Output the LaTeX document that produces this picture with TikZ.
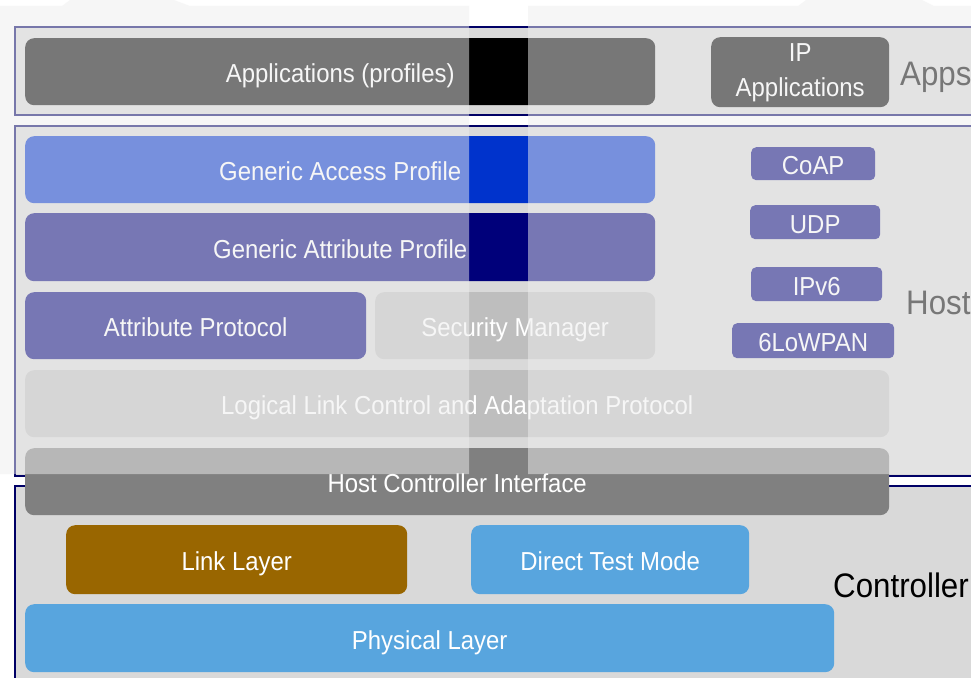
\documentclass[tikz,border=0pt]{standalone}
\usepackage{fontspec}
\setmainfont{Liberation Sans}[FakeStretch=0.92]
\definecolor{framenavy}{HTML}{000066}
\definecolor{framefill}{HTML}{D9D9D9}
\definecolor{gapblue}{HTML}{0033CC}
\definecolor{attnavy}{HTML}{00007A}
\definecolor{lightgrey}{HTML}{BEBEBE}
\definecolor{hcigrey}{HTML}{808080}
\definecolor{linkbrown}{HTML}{996600}
\definecolor{skyblue}{HTML}{58A5DE}
\definecolor{veil}{HTML}{EEEEEE}
\tikzset{
  layerbox/.style={draw=none, rounded corners=9pt, text=white, inner sep=0pt,
    anchor=north west, font=\fontsize{26}{35}\selectfont, text height=22pt, text depth=0pt},
  smallbox/.style={layerbox, rounded corners=5pt},
  stackframe/.style={draw=framenavy, line width=2.5pt, fill=framefill},
  sidelabel/.style={anchor=west, inner sep=0pt, text=black, font=\fontsize{34}{38}\selectfont,
    text height=25pt, text depth=0pt},
  veilfill/.style={fill=veil, fill opacity=0.5, draw=none}
}
\begin{document}
\begin{tikzpicture}[x=1pt,y=-1pt]
\useasboundingbox (0,0) rectangle (971,677);
\clip (0,0) rectangle (971,677);
\fill[white] (0,0) rectangle (971,677);

% frames
\draw[stackframe] (15,27) rectangle (1000,115);
\draw[stackframe] (15,126) rectangle (1000,476);
\draw[stackframe] (15,486) rectangle (1000,700);

% Apps layer
\node[layerbox, fill=black, minimum width=630pt, minimum height=67pt] (apps) at (25,38) {Applications (profiles)};
\node[layerbox, fill=black, minimum width=178pt, minimum height=66pt, text height=, text depth=]
  (ipapps) at (711,37) {\raisebox{-4pt}{\begin{tabular}{@{}c@{}}IP\\Applications\end{tabular}}};
\node[sidelabel] (appslabel) at (900,73) {Apps};

% Host layer
\node[layerbox, fill=gapblue, minimum width=630pt, minimum height=67pt] (gap) at (25,136) {Generic Access Profile};
\node[layerbox, fill=attnavy, minimum width=630pt, minimum height=68pt] (gatt) at (25,213) {Generic Attribute Profile};
\node[layerbox, fill=attnavy, minimum width=341pt, minimum height=67pt] (att) at (25,292) {Attribute Protocol};
\node[layerbox, fill=lightgrey, minimum width=280pt, minimum height=67pt] (sm) at (375,292) {Security Manager};
\node[layerbox, fill=lightgrey, minimum width=864pt, minimum height=67pt] (l2cap) at (25,370) {Logical Link Control and Adaptation Protocol};
\node[smallbox, fill=attnavy, minimum width=124pt, minimum height=33pt] (coap) at (751,147) {CoAP};
\node[smallbox, fill=attnavy, minimum width=130pt, minimum height=34pt] (udp) at (750,205) {UDP};
\node[smallbox, fill=attnavy, minimum width=131pt, minimum height=34pt] (ipv6) at (751,267) {IPv6};
\node[smallbox, fill=attnavy, minimum width=162pt, minimum height=35pt] (lowpan) at (732,323) {6LoWPAN};
\node[sidelabel] (hostlabel) at (906,302) {Host};

% HCI
\node[layerbox, fill=hcigrey, minimum width=864pt, minimum height=67pt] (hci) at (25,448) {Host Controller Interface};

% Controller layer
\node[layerbox, fill=linkbrown, minimum width=341pt, minimum height=69pt] (ll) at (66,525) {Link Layer};
\node[layerbox, fill=skyblue, minimum width=278pt, minimum height=69pt] (dtm) at (471,525) {Direct Test Mode};
\node[layerbox, fill=skyblue, minimum width=809pt, minimum height=68pt] (phy) at (25,604) {Physical Layer};
\node[sidelabel] (ctrllabel) at (833,585) {Controller};

% translucent veil over the upper part, except a vertical band
\fill[veilfill] (0,474) -- (0,6) -- (62,6) -- (70,0) -- (174,0) -- (190,6) -- (469,6) -- (469,474) -- cycle;
\fill[veilfill] (528,474) -- (528,6) -- (798,6) -- (806,0) -- (922,0) -- (934,6) -- (971,6) -- (971,474) -- cycle;
\end{tikzpicture}
\end{document}
